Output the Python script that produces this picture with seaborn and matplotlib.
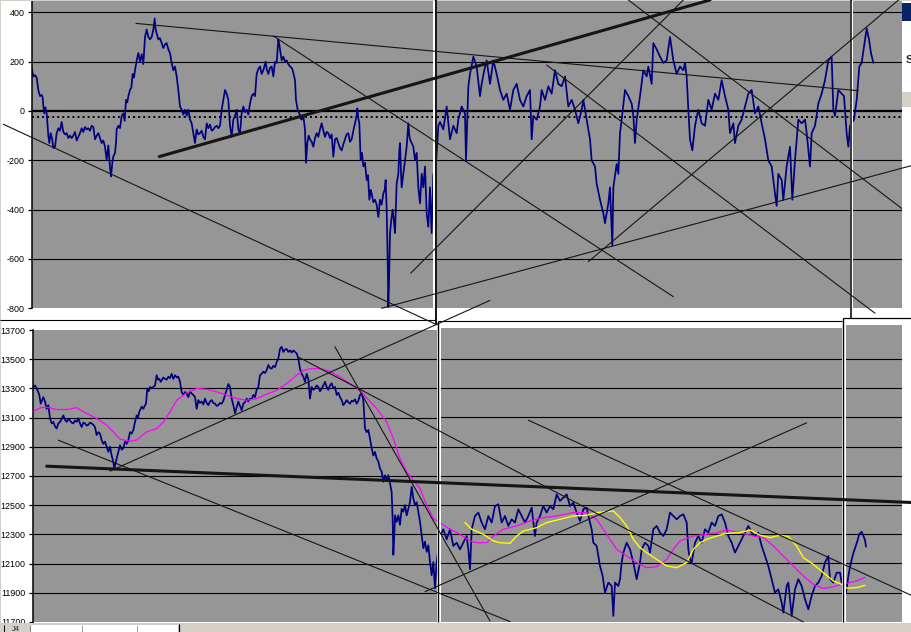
import matplotlib
matplotlib.use('Agg')
import matplotlib.pyplot as plt
from matplotlib.lines import Line2D
from matplotlib.patches import Rectangle
import seaborn as sns

# ---- upper series (oscillator), bar number -> value
top_bar = [95, 100, 105, 110, 115, 120, 125, 128, 130, 133, 136, 140, 145, 148, 152, 156, 160, 165, 170, 175,
           180, 185, 190, 195, 200, 205, 210, 215, 220, 225, 230, 235, 240, 245, 250, 255, 260, 265, 270, 275,
           280, 285, 290, 295, 300, 305, 310, 315, 320, 325, 330, 333, 337, 340, 345, 348, 350, 355, 360, 365,
           370, 374, 378, 382, 385, 390, 394, 398, 402, 405, 410, 415, 420, 425, 430, 435, 440, 445, 450, 455,
           460, 464, 467, 470, 475, 480, 485, 490, 495, 500, 505, 510, 515, 520, 525, 530, 535, 540, 545, 550,
           555, 560, 565, 570, 575, 580, 585, 590, 595, 600, 605, 610, 615, 620, 625, 630, 635, 640, 645, 650,
           655, 660, 665, 670, 675, 680, 685, 690, 695, 700, 705, 710, 715, 720, 725, 730, 735, 740, 745, 750,
           755, 760, 765, 770, 775, 780, 785, 790, 797, 800, 805, 810, 815, 820, 825, 830, 835, 838, 840, 845,
           850, 855, 860, 865, 870, 875, 878, 885, 888, 893, 898, 902, 905, 910, 915, 918, 922, 926, 930, 935,
           940, 945, 950, 955, 960, 965, 970, 975, 980, 985, 990, 995, 1000, 1005, 1010, 1015, 1020, 1025, 1030, 1035,
           1040, 1045, 1050, 1055, 1060, 1065, 1070, 1072, 1075, 1078, 1082, 1086, 1090, 1095, 1100, 1104, 1108, 1112, 1115, 1120,
           1125, 1130, 1135, 1138, 1140, 1145, 1150, 1154, 1157, 1160, 1163, 1165, 1167, 1170, 1174, 1178, 1182, 1185, 1188, 1190,
           1195, 1198, 1200, 1203, 1205, 1210, 1215, 1220, 1225, 1228, 1230, 1235, 1240, 1245, 1250, 1255, 1260, 1265, 1270, 1275,
           1280, 1285, 1290, 1295, 1300, 1305, 1310, 1315,
           1320, 1330, 1340, 1350, 1360, 1370, 1375, 1385, 1395, 1398, 1405, 1410, 1420, 1430, 1440, 1445, 1455, 1460, 1470, 1480,
           1490, 1500, 1510, 1520, 1530, 1540, 1550, 1560, 1570, 1580, 1590, 1595, 1600, 1610, 1620, 1625, 1635, 1645, 1655, 1665,
           1675, 1685, 1695, 1705, 1715, 1725, 1735, 1745, 1750, 1760, 1770, 1775, 1785, 1790, 1800, 1810, 1815, 1825, 1830, 1837,
           1840, 1850, 1855, 1860, 1865, 1875, 1885, 1895, 1900, 1905, 1910, 1920, 1930, 1940, 1945, 1955, 1960, 1970, 1980, 1990,
           2000, 2010, 2020, 2030, 2040, 2050, 2055, 2060, 2065, 2070, 2077, 2085, 2095, 2105, 2115, 2125, 2135, 2145, 2155, 2165,
           2175, 2185, 2190, 2200, 2205, 2215, 2225, 2235, 2245, 2255, 2265, 2275, 2285, 2295, 2305, 2315, 2325, 2330, 2335, 2345,
           2350, 2360, 2370, 2377, 2385, 2395, 2405, 2415, 2420, 2430, 2435, 2445, 2455, 2465, 2475, 2485, 2495, 2500, 2505, 2515,
           2525, 2532, 2540, 2545, 2550, 2562, 2570, 2578, 2585, 2592, 2600, 2607, 2613, 2620]
top_val = [175, 140, 145, 135, 85, 60, 65, 55, 20, -10, 15, -10, -100, -130, -90, -110, -150, -145, -90, -70,
           -80, -45, -85, -95, -90, -110, -100, -110, -100, -85, -120, -105, -90, -70, -85, -65, -75, -70, -80, -60,
           -65, -115, -100, -90, -110, -130, -120, -145, -200, -140, -230, -266, -210, -185, -170, -130, -75, -60, -70, -20,
           -10, -40, 45, 35, 60, 85, 95, 150, 135, 165, 205, 235, 200, 230, 190, 300, 330, 300, 290, 300,
           330, 375, 330, 315, 290, 295, 275, 255, 270, 275, 250, 235, 195, 165, 180, 140, 85, 18, 5, -15,
           5, -20, 5, -35, -50, -90, -130, -75, -95, -90, -80, -105, -115, -50, -70, -55, -80, -75, -65, -60,
           -70, -60, 5, 45, 85, 70, 45, -60, -105, -35, -20, 5, -75, -90, -10, 18, -5, 5, -15, 30,
           60, 70, 60, 150, 170, 180, 150, 165, 200, 170, 150, 175, 180, 140, 200, 195, 290, 270, 250, 205,
           220, 200, 205, 190, 180, 175, 165, 125, 45, 5, -10, -30, -35, -20, -75, -210, -130, -100, -115, -125,
           -145, -110, -90, -105, -75, -50, -80, -105, -85, -90, -110, -95, -185, -115, -110, -130, -150, -160, -135, -115,
           -95, -90, -125, -115, -80, -50, -20, 10, -30, -50, -200, -170, -225, -210, -280, -260, -360, -320, -335, -370,
           -360, -380, -430, -390, -360, -380, -335, -320, -280, -400, -600, -795, -700, -495, -440, -400, -450, -495, -380, -295,
           -255, -160, -130, -250, -310, -255, -200, -145, -50, -100, -115, -130, -145, -200, -170, -310, -375, -255, -310, -225,
           -415, -470, -310, -495, -255, -300, -170, -60,
           -45, -75, 18, -115, -60, -90, -35, 18, -10, -200, 100, 150, 220, 180, 60, 110, 180, 205, 110, 205,
           150, 85, 45, 70, 5, 85, 110, 45, 18, 60, 85, -115, -20, -35, 18, 85, 45, 100, 70, 165,
           110, 100, 140, 18, 45, 5, -50, 5, 45, -35, -115, -200, -225, -295, -360, -415, -455, -375, -310, -545,
           -310, -215, -255, -90, -35, 85, 60, 30, -20, -130, -35, 60, 165, 140, 180, 110, 275, 250, 220, 195,
           205, 300, 205, 150, 180, 165, 195, 140, 5, -115, -160, -60, 5, -50, -60, 45, 5, 70, 45, 125,
           60, 5, -90, -50, -130, -60, -35, 18, 70, 85, -10, 18, -50, -115, -200, -225, -335, -385, -255, -280,
           -360, -225, -145, -360, -200, -35, -50, -35, -90, -225, -90, -60, 30, 70, 125, 205, 220, 5, -20, 85,
           70, 60, -90, -145, -60, -35, 45, 180, 195, 260, 335, 290, 235, 195]

# ---- lower series (index level), bar number -> value
low_bar = [100, 105, 112, 118, 122, 130, 135, 140, 145, 150, 155, 160, 165, 170, 175, 180, 185, 190, 195, 200,
           205, 210, 215, 220, 225, 230, 235, 240, 245, 250, 255, 260, 265, 270, 275, 280, 285, 290, 295, 300,
           305, 310, 315, 320, 325, 330, 335, 340, 343, 347, 350, 355, 360, 365, 370, 375, 380, 385, 390, 395,
           400, 405, 410, 414, 418, 422, 425, 430, 434, 438, 442, 446, 450, 455, 460, 465, 470, 474, 478, 482,
           485, 490, 495, 500, 505, 510, 515, 520, 525, 530, 535, 540, 545, 550, 555, 560, 565, 570, 575, 580,
           585, 590, 595, 600, 605, 610, 615, 620, 625, 630, 635, 640, 645, 650, 655, 660, 665, 670, 675, 680,
           685, 690, 695, 700, 705, 710, 715, 720, 725, 730, 735, 740, 745, 750, 755, 760, 765, 770, 775, 780,
           785, 790, 795, 800, 805, 810, 815, 820, 825, 830, 835, 840, 845, 850, 855, 860, 865, 870, 875, 880,
           885, 890, 895, 900, 905, 910, 915, 920, 925, 930, 935, 940, 945, 950, 955, 960, 965, 970, 975, 980,
           985, 990, 995, 1000, 1005, 1010, 1015, 1020, 1025, 1030, 1035, 1040, 1045, 1050, 1055, 1060, 1065, 1070, 1075, 1080,
           1085, 1090, 1095, 1100, 1105, 1110, 1115, 1120, 1125, 1130, 1135, 1140, 1145, 1150, 1155, 1160, 1165, 1170, 1175, 1178,
           1180, 1183, 1185, 1190, 1195, 1200, 1205, 1210, 1215, 1220, 1225, 1230, 1235, 1240, 1245, 1250, 1255, 1260, 1265, 1270,
           1275, 1280, 1285, 1290, 1295, 1300, 1305, 1310, 1315,
           1320, 1330, 1340, 1350, 1360, 1370, 1380, 1390, 1400, 1405, 1410, 1415, 1425, 1435, 1445, 1455, 1465, 1475, 1485, 1495,
           1505, 1515, 1525, 1535, 1545, 1555, 1565, 1575, 1585, 1595, 1605, 1610, 1620, 1630, 1640, 1650, 1660, 1670, 1680, 1690,
           1700, 1710, 1720, 1730, 1740, 1750, 1760, 1765, 1770, 1775, 1780, 1790, 1795, 1800, 1808, 1815, 1825, 1835, 1840, 1845,
           1855, 1860, 1865, 1870, 1880, 1890, 1900, 1910, 1920, 1925, 1935, 1945, 1950, 1960, 1970, 1980, 1990, 2000, 2010, 2020,
           2030, 2040, 2050, 2060, 2065, 2070, 2075, 2085, 2095, 2105, 2115, 2125, 2135, 2145, 2155, 2165, 2175, 2185, 2195, 2205,
           2215, 2225, 2235, 2245, 2255, 2265, 2275, 2285, 2295, 2305, 2315, 2325, 2335, 2345, 2350, 2360, 2365, 2375, 2385, 2395,
           2405, 2415, 2425, 2435, 2445, 2455, 2465, 2475, 2485, 2490, 2500, 2510, 2520, 2525, 2532, 2538, 2545, 2550, 2560, 2570,
           2578, 2585, 2590, 2595, 2598]
low_val = [13310, 13320, 13290, 13255, 13195, 13240, 13210, 13160, 13185, 13095, 13060, 13070, 13040, 13025, 13060, 13070, 13090, 13115, 13085, 13070,
           13090, 13080, 13065, 13060, 13080, 13070, 13095, 13060, 13035, 13065, 13060, 13045, 13050, 13065, 13060, 13050, 13035, 12980, 13000, 12990,
           12945, 12920, 12935, 12900, 12865, 12900, 12840, 12795, 12750, 12790, 12820, 12865, 12910, 12880, 12890, 12935, 12920, 12945, 13000, 12990,
           13015, 13070, 13115, 13100, 13140, 13160, 13175, 13160, 13180, 13195, 13300, 13280, 13310, 13300, 13310, 13320, 13390, 13360, 13365, 13345,
           13355, 13375, 13365, 13360, 13380, 13370, 13400, 13365, 13390, 13375, 13380, 13345, 13275, 13255, 13275, 13265, 13240, 13280, 13265, 13255,
           13240, 13160, 13220, 13200, 13210, 13190, 13230, 13200, 13185, 13210, 13220, 13200, 13195, 13180, 13185, 13200, 13195, 13215, 13255, 13290,
           13330, 13310, 13230, 13185, 13130, 13170, 13210, 13180, 13150, 13195, 13205, 13230, 13210, 13230, 13225, 13255, 13240, 13290, 13310, 13390,
           13400, 13415, 13405, 13425, 13460, 13440, 13435, 13455, 13445, 13480, 13505, 13570, 13585, 13550, 13565, 13570, 13550, 13560, 13545, 13560,
           13550, 13540, 13505, 13435, 13400, 13380, 13345, 13400, 13365, 13230, 13310, 13290, 13300, 13320, 13310, 13280, 13300, 13320, 13345, 13310,
           13290, 13320, 13335, 13300, 13310, 13255, 13270, 13240, 13220, 13185, 13200, 13220, 13205, 13195, 13215, 13210, 13225, 13195, 13215, 13255,
           13265, 13220, 13025, 13000, 13015, 12955, 12890, 12840, 12865, 12820, 12800, 12750, 12730, 12660, 12705, 12670, 12705, 12650, 12590, 12400,
           12160, 12300, 12430, 12385, 12430, 12365, 12475, 12455, 12500, 12430, 12475, 12520, 12625, 12545, 12500, 12520, 12455, 12385, 12295, 12205,
           12250, 12180, 12225, 12110, 12020, 12110, 11930, 12110, 12200,
           12288, 12334, 12265, 12334, 12220, 12242, 12197, 12242, 12288, 12197, 12060, 12334, 12425, 12448, 12380, 12334, 12425, 12380, 12493, 12505,
           12380, 12425, 12357, 12402, 12380, 12471, 12425, 12380, 12425, 12482, 12288, 12380, 12425, 12493, 12448, 12493, 12471, 12573, 12528, 12550,
           12573, 12493, 12516, 12448, 12391, 12471, 12482, 12425, 12380, 12334, 12242, 12220, 12151, 12083, 12014, 11900, 11969, 11946, 11741, 11969,
           11946, 11992, 12106, 12174, 12242, 12197, 12106, 11992, 12106, 12197, 12242, 12220, 12174, 12334, 12357, 12311, 12288, 12334, 12448, 12425,
           12402, 12425, 12436, 12380, 12197, 12129, 12106, 12242, 12288, 12242, 12334, 12311, 12380, 12357, 12425, 12436, 12380, 12288, 12242, 12174,
           12220, 12265, 12311, 12357, 12311, 12288, 12311, 12220, 12151, 12083, 11992, 11900, 11923, 11832, 11763, 11946, 11969, 11741, 11923, 11992,
           11946, 11855, 11786, 11878, 11946, 11969, 12014, 12106, 12151, 11992, 11969, 12037, 12037, 11969, 11930, 11900, 12010, 12078, 12170, 12238,
           12300, 12317, 12290, 12260, 12215]

# ---- moving averages on the lower panel
ma_mag_bar = [100, 120, 140, 170, 200, 230, 250, 290, 320, 340, 360, 390, 410, 440, 470, 490, 510, 530, 560, 590,
              620, 650, 680, 710, 740, 770, 800, 830, 860, 890, 910, 930, 960, 990, 1020, 1050, 1080, 1100, 1130, 1160,
              1180, 1200, 1220, 1240, 1260, 1280, 1300, 1320, 1350, 1380, 1410, 1430, 1460, 1480, 1510, 1550, 1590, 1630, 1670, 1720,
              1760, 1790, 1810, 1830, 1850, 1880, 1910, 1940, 1970, 2000, 2020, 2040, 2080, 2120, 2150, 2180, 2220, 2260, 2290, 2320,
              2350, 2380, 2410, 2440, 2470, 2500, 2525, 2542, 2570, 2595]
ma_mag_val = [13143, 13166, 13171, 13155, 13155, 13168, 13139, 13094, 13048, 13002, 12952, 12938, 12945, 13002, 13025, 13070, 13139, 13219, 13269, 13299,
              13294, 13276, 13253, 13230, 13219, 13230, 13260, 13287, 13333, 13390, 13422, 13435, 13435, 13417, 13378, 13333, 13287, 13235, 13162, 13070,
              12956, 12820, 12728, 12671, 12614, 12500, 12409, 12379, 12334, 12300, 12254, 12242, 12242, 12288, 12334, 12357, 12391, 12414, 12425, 12448,
              12448, 12402, 12334, 12265, 12197, 12151, 12106, 12071, 12078, 12128, 12197, 12254, 12288, 12300, 12311, 12329, 12311, 12288, 12277, 12220,
              12151, 12083, 12014, 11957, 11928, 11941, 11957, 11966, 11980, 12005]
ma_yel_bar = [1395, 1415, 1450, 1480, 1500, 1530, 1550, 1570, 1610, 1640, 1680, 1720, 1760, 1790, 1820, 1840, 1860, 1880, 1900, 1920,
              1940, 1970, 2000, 2030, 2060, 2080, 2100, 2120, 2150, 2180, 2220, 2250, 2280, 2310, 2340, 2365, 2390, 2410, 2440, 2470,
              2500, 2525, 2542, 2570, 2595]
ma_yel_val = [12380, 12334, 12300, 12254, 12242, 12238, 12288, 12322, 12345, 12380, 12402, 12425, 12429, 12448, 12455, 12459, 12414, 12357, 12265, 12208,
              12174, 12128, 12083, 12071, 12106, 12197, 12242, 12265, 12288, 12306, 12311, 12329, 12293, 12277, 12293, 12284, 12220, 12140, 12094, 12037,
              11980, 11957, 11930, 11935, 11950]

# ---- hand-drawn trend lines: (bar0, value0, bar1, value1, width)
top_trends = [(408, 355, 2575, 82, 0.8),
              (820, 304, 2020, -753, 0.8),
              (478, -185, 2130, 450, 2.2),
              (10, -54, 1311, -867, 0.8),
              (1145, -800, 2736, -221, 0.8),
              (1232, -658, 2050, 450, 0.8),
              (1885, 450, 2705, -395, 0.8),
              (1640, 186, 2625, -820, 0.8),
              (1765, -611, 2700, 455, 0.8)]
low_trends = [(140, 12767, 2736, 12518, 2.2),
              (175, 12945, 1530, 11702, 0.8),
              (330, 12733, 1470, 13903, 0.8),
              (1275, 11907, 2420, 13064, 0.8),
              (895, 13515, 2410, 11700, 0.8),
              (1005, 13584, 1470, 11706, 0.8),
              (1585, 13082, 2736, 11880, 0.8)]

top_ticks = [400, 200, 0, -200, -400, -600, -800]
low_ticks = [13700, 13500, 13300, 13100, 12900, 12700, 12500, 12300, 12100, 11900, 11700]
dotted_level = -26

sns.set_style('white')
plt.rcParams['font.family'] = ['Liberation Sans', 'DejaVu Sans']
plt.rcParams['axes.unicode_minus'] = False

W, H = 912, 632
BARS_PER_PX = 3
GREY = '#969696'
fig = plt.figure(figsize=(W / 100, H / 100), dpi=100, facecolor='white')


def top_value(py):
    return 400 - (py - 12.3) * 200 / 49.33


def low_value(py):
    return 13700 - (py - 329.7) * 200 / 29.22


def panel(left, right, top, bottom, value_at):
    ax = fig.add_axes([left / W, 1 - bottom / H, (right - left) / W, (bottom - top) / H])
    ax.set_facecolor(GREY)
    ax.set_xlim(left * BARS_PER_PX, right * BARS_PER_PX)
    ax.set_ylim(value_at(bottom), value_at(top))
    for s in ax.spines.values():
        s.set_visible(False)
    ax.set_xticks([])
    return ax


def px_line(x0, y0, x1, y1, lw=0.8, color='black', z=3):
    fig.add_artist(Line2D([x0 / W, x1 / W], [1 - y0 / H, 1 - y1 / H], transform=fig.transFigure,
                          color=color, lw=lw, zorder=z, solid_capstyle='butt'))


def px_rect(x0, y0, x1, y1, color, z=2):
    fig.add_artist(Rectangle((x0 / W, 1 - y1 / H), (x1 - x0) / W, (y1 - y0) / H,
                             transform=fig.transFigure, color=color, lw=0, zorder=z))


# upper row: three overlapping chart windows
top_axes = [panel(32, 433, 1, 308.3, top_value),
            panel(437, 850, 1, 308.3, top_value),
            panel(853, 902, 1, 308.3, top_value)]
for ax in top_axes:
    for v in top_ticks[:-1]:
        ax.axhline(v, color='black', lw=1.6 if v == 0 else 0.8, zorder=1)
    ax.axhline(dotted_level, color='black', lw=1.4, ls=(0, (1, 1.6)), zorder=1)
    sns.lineplot(x=top_bar, y=top_val, ax=ax, color='#000080', lw=1.25,
                 estimator=None, sort=False, zorder=2)
    ax.set_ylabel('')
    ax.set_yticks(top_ticks)

# lower row
low_axes = [panel(33, 437.5, 330, 622, low_value),
            panel(441, 842, 328, 622, low_value),
            panel(846, 902, 325, 622, low_value)]
for ax in low_axes:
    for v in low_ticks[1:-1]:
        ax.axhline(v, color='black', lw=0.8, zorder=1)
    sns.lineplot(x=low_bar, y=low_val, ax=ax, color='#000080', lw=1.25,
                 estimator=None, sort=False, zorder=2)
    sns.lineplot(x=ma_mag_bar, y=ma_mag_val, ax=ax, color='#ff00ff', lw=0.9,
                 estimator=None, sort=False, zorder=3)
    sns.lineplot(x=ma_yel_bar, y=ma_yel_val, ax=ax, color='#ffff00', lw=1.0,
                 estimator=None, sort=False, zorder=4)
    ax.set_ylabel('')
    ax.set_yticks(low_ticks)

for ax in top_axes + low_axes:
    ax.tick_params(axis='y', left=False, labelleft=False)
for ax in (top_axes[0], low_axes[0]):
    ax.spines['left'].set_visible(True)
    ax.spines['left'].set_color('black')
    ax.spines['left'].set_linewidth(1.1)
    ax.tick_params(axis='y', left=True, labelleft=True, direction='out', length=3,
                   width=0.9, pad=2.5, labelsize=6.4, colors='black')

# window frames and separators
px_line(435.8, 0, 435.8, 325, lw=1.3)
px_line(850.7, 0, 850.7, 318, lw=1.1)
px_line(0, 319.5, 436, 319.5, lw=0.8)
px_line(438.3, 321.3, 842, 321.3, lw=0.8)
px_line(438.3, 321, 438.3, 622, lw=1.0)
px_line(842.5, 318, 912, 318, lw=0.9)
px_line(842.5, 318, 842.5, 622, lw=1.0)
px_rect(0, 0, 1.5, H, '#d4d0c8')
px_rect(0, 0, W, 0.8, '#d4d0c8')

# fragment of another window at the right edge
px_rect(902, 3, W, 21, '#0a246a')
px_rect(902, 92, W, 107, '#d4d0c8')
fig.text(905.5 / W, 1 - 60 / H, 'S', fontsize=8, fontweight='bold', ha='left', va='center', zorder=6)

# sheet tab strip at the bottom
px_rect(0, 623, W, H, '#d4d0c8')
px_rect(30, 625, 178, H, 'white', z=2.5)
px_line(82, 625, 82, H, lw=0.7, color='#a0a0a0')
px_line(137, 625, 137, H, lw=0.7, color='#a0a0a0')
px_line(178.5, 624, 178.5, H, lw=0.9)
px_line(4, 625, 4, H, lw=0.7)
px_line(29.5, 625, 29.5, H, lw=0.7, color='#808080')
fig.text(16 / W, 1 - 629.5 / H, 'J4', fontsize=5.5, ha='center', va='center', zorder=6)

# trend lines are drawn on top of everything
for b0, v0, b1, v1, w in top_trends:
    fig.add_artist(Line2D([b0, b1], [v0, v1], transform=top_axes[0].transData,
                          color='#151515', lw=w, zorder=5))
for b0, v0, b1, v1, w in low_trends:
    fig.add_artist(Line2D([b0, b1], [v0, v1], transform=low_axes[0].transData,
                          color='#151515', lw=w, zorder=5))

fig.savefig('out.png', dpi=100, facecolor='white')
